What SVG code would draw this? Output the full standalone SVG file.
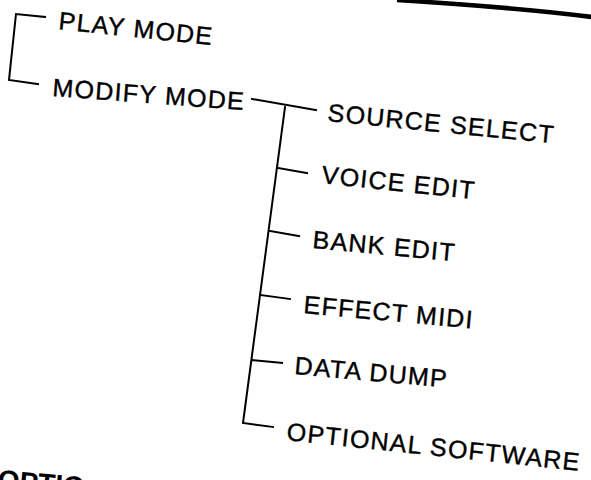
<svg xmlns="http://www.w3.org/2000/svg" width="591" height="480" viewBox="0 0 591 480">
<style>
.t{font-family:"Liberation Sans",Arial,sans-serif;font-size:25px;letter-spacing:1.3px;fill:#000;stroke:#000;stroke-width:0.4}
.b{font-family:"Liberation Sans",Arial,sans-serif;font-size:28px;font-weight:bold;fill:#000}
.c{fill:none;stroke:#000;stroke-width:2;stroke-linecap:square;stroke-linejoin:miter}
</style>
<rect width="591" height="480" fill="#fff"/>
<path d="M397,0 C460,4 530,9 592,17" fill="none" stroke="#000" stroke-width="4.5"/>
<g id="connectors">
<path class="c" d="M45,17 L16,14 L9,80 L38,84"/>
<path class="c" d="M252,99 L316,110"/>
<path class="c" d="M285,107 L243,423 L273,427"/>
<path class="c" d="M278,168 L307,173"/>
<path class="c" d="M270,231 L299,236"/>
<path class="c" d="M260,295 L290,299"/>
<path class="c" d="M252,360 L282,363"/>
</g>
<g id="play-mode"><text class="t" x="58" y="29" transform="rotate(6 58 29)">PLAY MODE</text></g>
<g id="modify-mode"><text class="t" x="52" y="96" transform="rotate(4.2 52 96)">MODIFY MODE</text></g>
<g id="source-select"><text class="t" x="327" y="121" transform="rotate(5.6 327 121)">SOURCE SELECT</text></g>
<g id="voice-edit"><text class="t" x="321" y="183" transform="rotate(6 321 183)">VOICE EDIT</text></g>
<g id="bank-edit"><text class="t" x="312" y="248" transform="rotate(5.3 312 248)">BANK EDIT</text></g>
<g id="effect-midi"><text class="t" x="303" y="313" transform="rotate(5.2 303 313)">EFFECT MIDI</text></g>
<g id="data-dump"><text class="t" x="294" y="374" transform="rotate(5.1 294 374)">DATA DUMP</text></g>
<g id="optional-software"><text class="t" x="286" y="440" transform="rotate(6 286 440)">OPTIONAL SOFTWARE</text></g>
<text class="b" x="-3" y="489" transform="rotate(5 -3 489)">OPTIO</text>
</svg>
